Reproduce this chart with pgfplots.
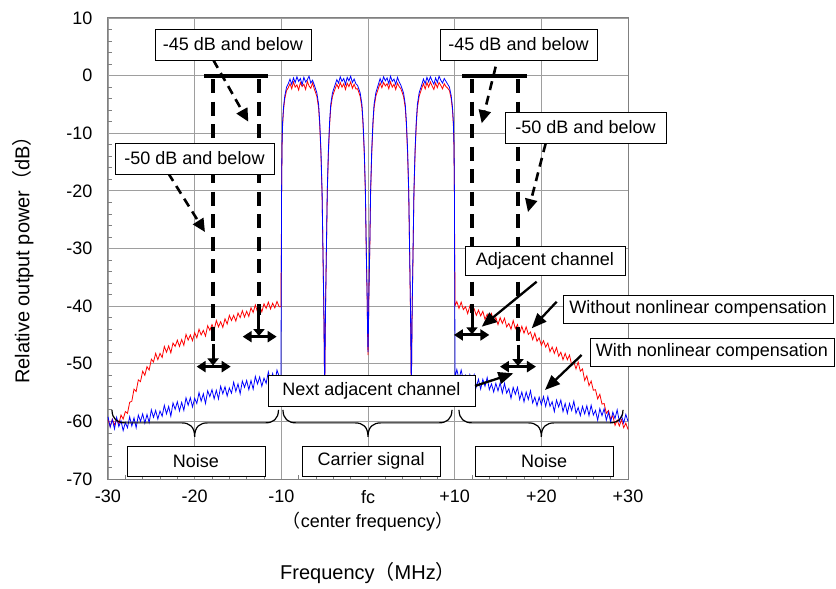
\documentclass[border=0pt]{standalone}
\usepackage{fontspec}
\setmainfont{Liberation Sans}
\newfontfamily\cjk{Noto Sans CJK JP}
\usepackage{pgfplots}
\pgfplotsset{compat=1.18}
\usetikzlibrary{arrows.meta}
\newcommand{\fs}{\fontsize{18}{21}\selectfont}
\newcommand{\fl}{\fontsize{20}{24}\selectfont}
\begin{document}
\begin{tikzpicture}
\begin{axis}[
  width=520pt, height=461pt, scale only axis,
  xmin=-30, xmax=30, ymin=-70, ymax=10,
  xtick={-30,-20,...,30}, xticklabels={-30,-20,-10,fc,+10,+20,+30},
  ytick={-70,-60,...,10}, yticklabels={-70,-60,-50,-40,-30,-20,-10,0,10},
  minor x tick num=4, minor y tick num=4,
  tick pos=left, tick align=inside,
  major tick style={draw=none},
  minor tick length=4pt,
  minor tick style={draw=black!50, line width=0.8pt},
  grid=major, major grid style={draw=black!38, line width=0.9pt},
  axis line style={draw=black!50, line width=1pt},
  tick label style={font=\fs, text=black},
  xticklabel style={anchor=north, inner sep=0pt, yshift=-11pt},
  yticklabel style={anchor=east, inner sep=0pt, xshift=-15.5pt},
  clip=false,
]
% ---------- without nonlinear compensation (red)
\addplot[red, line width=0.8pt] table {
x y
-30 -59.7
-29.75 -60.9
-29.5 -59.6
-29.25 -60.6
-29 -59.7
-28.75 -60.5
-28.5 -58.9
-28.25 -59.6
-28 -58.3
-27.75 -58.6
-27.5 -56.7
-27.25 -56.5
-27 -54.4
-26.75 -54.8
-26.5 -52.8
-26.25 -53.1
-26 -51.3
-25.75 -52.0
-25.5 -50.5
-25.25 -51.1
-25 -49.2
-24.75 -49.7
-24.5 -48.2
-24.25 -49.3
-24 -48.2
-23.75 -48.9
-23.5 -47.0
-23.25 -48.0
-23 -46.9
-22.75 -48.1
-22.5 -46.4
-22.25 -47.0
-22 -45.9
-21.75 -47.0
-21.5 -45.8
-21.25 -46.8
-21 -44.9
-20.75 -45.9
-20.5 -45.0
-20.25 -46.0
-20 -44.6
-19.75 -45.5
-19.5 -44.0
-19.25 -45.0
-19 -44.2
-18.75 -45.2
-18.5 -43.4
-18.25 -44.2
-18 -43.2
-17.75 -44.1
-17.5 -42.5
-17.25 -43.6
-17 -42.7
-16.75 -43.7
-16.5 -42.2
-16.25 -43.1
-16 -41.6
-15.75 -42.5
-15.5 -41.6
-15.25 -42.6
-15 -41.2
-14.75 -42.0
-14.5 -40.8
-14.25 -41.9
-14 -40.9
-13.75 -41.8
-13.5 -40.3
-13.25 -41.1
-13 -39.8
-12.75 -41.0
-12.5 -40.0
-12.25 -41.0
-12 -39.6
-11.75 -40.4
-11.5 -39.3
-11.25 -40.5
-11 -39.5
-10.75 -40.3
-10.5 -39.2
-10.25 -40.1
-10.05 -40.1
-10.0 -30
-9.97 -20.3
-9.92 -12.4
-9.85 -8.5
-9.75 -6.0
-9.6 -4.0
-9.4 -2.6
-9.2 -2.1
-9.0 -1.4
-8.8 -2.3
-8.6 -1.1
-8.4 -2.0
-8.2 -1.6
-8.0 -2.5
-7.8 -1.2
-7.6 -1.9
-7.4 -1.5
-7.2 -2.4
-7.0 -1.0
-6.8 -1.8
-6.6 -2.2
-6.4 -1.3
-6.2 -2.3
-5.9 -3.6
-5.7 -5.6
-5.57 -8.6
-5.43 -13.6
-5.3 -20.6
-5.2 -30.6
-5.1 -40.6
-5.05 -47.6
-5.0 -55
-4.95 -47.6
-4.9 -40.6
-4.8 -30.6
-4.7 -20.6
-4.57 -13.6
-4.43 -8.6
-4.3 -5.6
-4.1 -3.6
-3.8 -2.3
-3.6 -1.5
-3.4 -2.2
-3.2 -1.2
-3.0 -2.0
-2.8 -1.4
-2.6 -2.4
-2.4 -1.3
-2.2 -1.9
-2.0 -1.1
-1.8 -2.2
-1.6 -1.5
-1.4 -2.3
-1.2 -2.3
-0.9 -3.6
-0.7 -5.6
-0.57 -8.6
-0.43 -13.6
-0.3 -20.6
-0.2 -30.6
-0.1 -38.6
-0.05 -44.6
0.0 -48.5
0.05 -44.6
0.1 -38.6
0.2 -30.6
0.3 -20.6
0.43 -13.6
0.57 -8.6
0.7 -5.6
0.9 -3.6
1.2 -2.2
1.4 -1.3
1.6 -2.1
1.8 -1.2
2.0 -1.8
2.2 -1.4
2.4 -2.3
2.6 -1.1
2.8 -2.0
3.0 -1.5
3.2 -2.4
3.4 -1.3
3.6 -1.9
3.8 -2.3
4.1 -3.6
4.3 -5.6
4.43 -8.6
4.57 -13.6
4.7 -20.6
4.8 -30.6
4.9 -40.6
4.95 -47.6
5.0 -55
5.05 -47.6
5.1 -40.6
5.2 -30.6
5.3 -20.6
5.43 -13.6
5.57 -8.6
5.7 -5.6
5.9 -3.6
6.2 -2.2
6.4 -1.4
6.6 -2.3
6.8 -1.2
7.0 -2.0
7.2 -1.1
7.4 -1.8
7.6 -2.4
7.8 -1.3
8.0 -2.1
8.2 -1.2
8.4 -1.7
8.6 -2.3
8.8 -1.4
9.0 -1.9
9.2 -2.2
9.4 -2.6
9.6 -4.0
9.75 -6.0
9.85 -8.5
9.92 -12.4
9.97 -20.3
10.0 -30
10.05 -39.9
10.25 -39.2
10.5 -40.4
10.75 -39.3
11 -40.6
11.25 -40.1
11.5 -41.3
11.75 -40.0
12 -41.2
12.25 -40.5
12.5 -41.6
12.75 -40.7
13 -41.7
13.25 -40.9
13.5 -42.3
13.75 -41.4
14 -42.4
14.25 -41.3
14.5 -42.7
14.75 -42.0
15 -43.2
15.25 -42.0
15.5 -43.0
15.75 -42.1
16 -43.6
16.25 -43.0
16.5 -44.0
16.75 -42.5
17 -43.9
17.25 -43.2
17.5 -44.7
17.75 -43.5
18 -44.7
18.25 -43.6
18.5 -44.9
18.75 -44.5
19 -45.8
19.25 -44.7
19.5 -46.1
19.75 -45.5
20 -46.8
20.25 -46.0
20.5 -47.1
20.75 -46.4
21 -47.9
21.25 -47.1
21.5 -48.2
21.75 -47.2
22 -48.7
22.25 -48.0
22.5 -49.3
22.75 -48.2
23 -49.3
23.25 -48.5
23.5 -50.2
23.75 -49.7
24 -50.9
24.25 -49.7
24.5 -51.3
24.75 -50.9
25 -52.9
25.25 -52.1
25.5 -53.8
25.75 -53.0
26 -54.6
26.25 -54.5
26.5 -56.1
26.75 -55.3
27 -57.0
27.25 -56.9
27.5 -58.6
27.75 -58.1
28 -59.6
28.25 -59.0
28.5 -60.7
28.75 -59.8
29 -60.8
29.25 -59.7
29.5 -61.1
29.75 -60.3
30 -61.4
};
% ---------- with nonlinear compensation (blue)
\addplot[blue, line width=0.8pt] table {
x y
-30 -59.2
-29.75 -61.0
-29.5 -59.7
-29.25 -61.3
-29 -59.3
-28.75 -60.9
-28.5 -59.9
-28.25 -61.6
-28 -60.2
-27.75 -61.1
-27.5 -59.2
-27.25 -60.8
-27 -59.4
-26.75 -61.1
-26.5 -58.9
-26.25 -60.0
-26 -58.7
-25.75 -60.3
-25.5 -58.8
-25.25 -60.2
-25 -58.0
-24.75 -59.3
-24.5 -58.1
-24.25 -59.6
-24 -58.2
-23.75 -59.1
-23.5 -57.2
-23.25 -58.7
-23 -57.4
-22.75 -59.1
-22.5 -56.8
-22.25 -57.9
-22 -56.6
-21.75 -58.2
-21.5 -56.7
-21.25 -58.1
-21 -55.9
-20.75 -57.2
-20.5 -55.9
-20.25 -57.5
-20 -56.0
-19.75 -56.9
-19.5 -55.0
-19.25 -56.5
-19 -55.2
-18.75 -56.9
-18.5 -54.7
-18.25 -55.7
-18 -54.5
-17.75 -56.1
-17.5 -54.6
-17.25 -56.1
-17 -53.9
-16.75 -55.2
-16.5 -54.0
-16.25 -55.6
-16 -54.2
-15.75 -55.1
-15.5 -53.2
-15.25 -54.8
-15 -53.5
-14.75 -55.2
-14.5 -53.0
-14.25 -54.1
-14 -52.9
-13.75 -54.5
-13.5 -52.9
-13.25 -54.4
-13 -52.2
-12.75 -53.5
-12.5 -52.3
-12.25 -53.9
-12 -52.5
-11.75 -53.4
-11.5 -51.4
-11.25 -53.0
-11 -51.7
-10.75 -53.4
-10.5 -51.1
-10.25 -52.2
-10.05 -52.5
-10.0 -35
-9.97 -20
-9.92 -12
-9.85 -8
-9.75 -5.5
-9.6 -3.5
-9.4 -2.0
-9.2 -1.4
-9.0 -0.6
-8.8 -1.5
-8.6 -0.4
-8.4 -1.2
-8.2 -0.2
-8.0 -1.0
-7.8 -0.5
-7.6 -1.6
-7.4 -0.3
-7.2 -1.1
-7.0 -0.7
-6.8 -0.1
-6.6 -1.3
-6.4 -0.8
-6.2 -1.6
-5.9 -3.0
-5.7 -5.0
-5.57 -8
-5.43 -13
-5.3 -20
-5.2 -30
-5.1 -40
-5.05 -47
-5.0 -55
-4.95 -47
-4.9 -40
-4.8 -30
-4.7 -20
-4.57 -13
-4.43 -8
-4.3 -5
-4.1 -3
-3.8 -1.6
-3.6 -0.7
-3.4 -1.3
-3.2 -0.2
-3.0 -1.0
-2.8 -0.5
-2.6 -1.5
-2.4 -0.3
-2.2 -0.9
-2.0 -0.1
-1.8 -1.2
-1.6 -0.6
-1.4 -1.4
-1.2 -1.7
-0.9 -3.0
-0.7 -5.0
-0.57 -8
-0.43 -13
-0.3 -20
-0.2 -30
-0.1 -38
-0.05 -44
0.0 -48
0.05 -44
0.1 -38
0.2 -30
0.3 -20
0.43 -13
0.57 -8
0.7 -5
0.9 -3
1.2 -1.5
1.4 -0.5
1.6 -1.3
1.8 -0.2
2.0 -0.9
2.2 -0.4
2.4 -1.4
2.6 -0.1
2.8 -1.0
3.0 -0.6
3.2 -1.5
3.4 -0.3
3.6 -1.1
3.8 -1.7
4.1 -3.0
4.3 -5.0
4.43 -8
4.57 -13
4.7 -20
4.8 -30
4.9 -40
4.95 -47
5.0 -55
5.05 -47
5.1 -40
5.2 -30
5.3 -20
5.43 -13
5.57 -8
5.7 -5
5.9 -3
6.2 -1.6
6.4 -0.6
6.6 -1.4
6.8 -0.3
7.0 -1.1
7.2 -0.2
7.4 -0.9
7.6 -1.5
7.8 -0.4
8.0 -1.2
8.2 -0.1
8.4 -0.8
8.6 -1.3
8.8 -0.5
9.0 -1.0
9.2 -1.5
9.4 -2.0
9.6 -3.5
9.75 -5.5
9.85 -8
9.92 -12
9.97 -20
10.0 -35
10.05 -52.3
10.25 -51.0
10.5 -52.7
10.75 -51.1
11 -52.8
11.25 -52.0
11.5 -53.8
11.75 -51.9
12 -53.1
12.25 -51.9
12.5 -54.0
12.75 -52.7
13 -54.4
13.25 -52.7
13.5 -53.9
13.75 -52.4
14 -54.5
14.25 -53.5
14.5 -54.9
14.75 -53.4
15 -54.7
15.25 -53.3
15.5 -55.1
15.75 -53.4
16 -55.1
16.25 -54.3
16.5 -56.0
16.75 -54.1
17 -55.3
17.25 -54.1
17.5 -56.2
17.75 -54.9
18 -56.6
18.25 -54.9
18.5 -56.2
18.75 -54.7
19 -56.8
19.25 -55.8
19.5 -57.3
19.75 -55.8
20 -57.1
20.25 -55.7
20.5 -57.4
20.75 -55.7
21 -57.4
21.25 -56.6
21.5 -58.3
21.75 -56.3
22 -57.5
22.25 -56.3
22.5 -58.3
22.75 -56.9
23 -58.6
23.25 -56.9
23.5 -58.1
23.75 -56.5
24 -58.6
24.25 -57.6
24.5 -59.0
24.75 -57.4
25 -58.7
25.25 -57.3
25.5 -59.0
25.75 -57.2
26 -58.9
26.25 -58.1
26.5 -59.8
26.75 -57.8
27 -59.0
27.25 -57.8
27.5 -59.8
27.75 -58.4
28 -60.1
28.25 -58.4
28.5 -59.5
28.75 -58.0
29 -60.0
29.25 -59.0
29.5 -60.3
29.75 -58.8
30 -60.0
};
% ---------- bars at 0 dB
\draw[line width=4pt] (axis cs:-18.92,0) -- (axis cs:-11.54,0);
\draw[line width=4pt] (axis cs:10.85,0) -- (axis cs:18.35,0);
% ---------- dashed verticals
\begin{scope}[line width=4pt, dash pattern=on 14pt off 8.5pt]
\draw (axis cs:-17.88,-0.6) -- (axis cs:-17.88,-46.6);
\draw (axis cs:-12.58,-0.6) -- (axis cs:-12.58,-41.5);
\draw (axis cs:12.0,-0.6) -- (axis cs:12.0,-41.2);
\draw (axis cs:17.31,-0.6) -- (axis cs:17.31,-46.7);
\end{scope}
\begin{scope}[line width=3pt, -{Triangle[length=7pt,width=11pt]}]
\draw (axis cs:-17.88,-46.6) -- (axis cs:-17.88,-50.3);
\draw (axis cs:-12.58,-41.5) -- (axis cs:-12.58,-45.2);
\draw (axis cs:12.0,-41.2) -- (axis cs:12.0,-44.9);
\draw (axis cs:17.31,-46.7) -- (axis cs:17.31,-50.4);
\end{scope}
% ---------- double arrows
\begin{scope}[line width=3pt, {Triangle[length=9pt,width=11pt]}-{Triangle[length=9pt,width=11pt]}]
\draw (axis cs:-19.77,-50.5) -- (axis cs:-15.84,-50.5);
\draw (axis cs:-14.46,-45.3) -- (axis cs:-10.54,-45.3);
\draw (axis cs:9.92,-45.0) -- (axis cs:14.0,-45.0);
\draw (axis cs:15.23,-50.5) -- (axis cs:19.38,-50.5);
\end{scope}
% ---------- dashed pointer arrows
\begin{scope}[line width=2.6pt, dash pattern=on 9pt off 6pt, -{Triangle[length=13pt,width=12pt]}]
\draw (axis cs:-17.85,2.71) -- (axis cs:-13.81,-8.0);
\draw (axis cs:-23.04,-16.95) -- (axis cs:-18.81,-27.14);
\draw (axis cs:14.73,1.55) -- (axis cs:13.12,-8.27);
\draw (axis cs:20.5,-11.75) -- (axis cs:18.46,-23.67);
\end{scope}
% ---------- solid pointer arrows
\begin{scope}[line width=2.3pt, -{Triangle[length=15pt,width=12pt]}]
\draw (axis cs:19.46,-35.76) -- (axis cs:13.12,-43.57);
\draw (axis cs:21.77,-39.23) -- (axis cs:18.89,-43.85);
\draw (axis cs:24.65,-48.48) -- (axis cs:20.42,-54.55);
\end{scope}
% ---------- braces
\begin{scope}[line width=1.2pt]
\draw (axis cs:-29.54,-58.0) .. controls (axis cs:-29.54,-59.6) and (axis cs:-28.9,-60.26) .. (axis cs:-28.04,-60.26) -- (axis cs:-21.5,-60.26) .. controls (axis cs:-20.6,-60.26) and (axis cs:-20.0,-60.9) .. (axis cs:-20.0,-62.7) .. controls (axis cs:-20.0,-60.9) and (axis cs:-19.4,-60.26) .. (axis cs:-18.5,-60.26) -- (axis cs:-11.83,-60.26) .. controls (axis cs:-10.97,-60.26) and (axis cs:-10.33,-59.6) .. (axis cs:-10.33,-58.0);
\draw (axis cs:-9.81,-58.0) .. controls (axis cs:-9.81,-59.6) and (axis cs:-9.17,-60.26) .. (axis cs:-8.31,-60.26) -- (axis cs:-1.5,-60.26) .. controls (axis cs:-0.6,-60.26) and (axis cs:0.0,-60.9) .. (axis cs:0.0,-62.7) .. controls (axis cs:0.0,-60.9) and (axis cs:0.6,-60.26) .. (axis cs:1.5,-60.26) -- (axis cs:8.19,-60.26) .. controls (axis cs:9.05,-60.26) and (axis cs:9.69,-59.6) .. (axis cs:9.69,-58.0);
\draw (axis cs:10.5,-58.0) .. controls (axis cs:10.5,-59.6) and (axis cs:11.14,-60.26) .. (axis cs:12.0,-60.26) -- (axis cs:18.5,-60.26) .. controls (axis cs:19.4,-60.26) and (axis cs:20.0,-60.9) .. (axis cs:20.0,-62.7) .. controls (axis cs:20.0,-60.9) and (axis cs:20.6,-60.26) .. (axis cs:21.5,-60.26) -- (axis cs:27.92,-60.26) .. controls (axis cs:28.78,-60.26) and (axis cs:29.42,-59.6) .. (axis cs:29.42,-58.0);
\end{scope}
% ---------- boxes
\tikzset{bx/.style={draw=black, line width=0.9pt, fill=white, inner sep=0pt, font=\fs, text=black, minimum height=31pt}}
\node[bx, minimum width=156pt] at (axis cs:-15.58,5.40) {-45 dB and below};
\node[bx, minimum width=159pt] at (axis cs:-20.02,-14.38) {-50 dB and below};
\node[bx, minimum width=157pt] at (axis cs:17.37,5.40) {-45 dB and below};
\node[bx, minimum width=161pt] at (axis cs:25.10,-9.0) {-50 dB and below};
\node[bx, minimum width=160pt, minimum height=29pt] at (axis cs:20.42,-32.17) {Adjacent channel};
\node[bx, minimum width=270pt, minimum height=28pt] at (axis cs:38.08,-40.50) {Without nonlinear compensation};
\node[bx, minimum width=244pt, minimum height=28pt] at (axis cs:39.69,-47.96) {With nonlinear compensation};
\node[bx, minimum width=207pt] at (axis cs:0.40,-54.64) {Next adjacent channel};
\draw[line width=2.3pt, -{Triangle[length=15pt,width=12pt]}] (axis cs:12.35,-53.86) -- (axis cs:16.77,-51.66);
\node[bx, minimum width=138pt, minimum height=30pt] at (axis cs:-19.85,-66.88) {Noise};
\node[bx, minimum width=138pt, minimum height=30pt] at (axis cs:0.35,-66.88) {Carrier signal};
\node[bx, minimum width=138pt, minimum height=30pt] at (axis cs:20.31,-66.88) {Noise};
% ---------- axis labels
\node[font=\fs, inner sep=0pt] at ([yshift=-43pt]axis cs:0,-70) {{\cjk （}center frequency{\cjk ）}};
\node[font=\fl, inner sep=0pt] at ([yshift=-94pt]axis cs:0,-70) {Frequency{\cjk （}MHz{\cjk ）}};
\node[font=\fl, inner sep=0pt, rotate=90] at ([xshift=-85pt]axis cs:-30,-31.13) {Relative output power{\cjk （}dB{\cjk ）}};
% ---------- page frame
\path ([xshift=-108pt,yshift=-109pt]rel axis cs:0,0) rectangle ([xshift=208pt,yshift=18pt]rel axis cs:1,1);
\end{axis}
\end{tikzpicture}
\end{document}
